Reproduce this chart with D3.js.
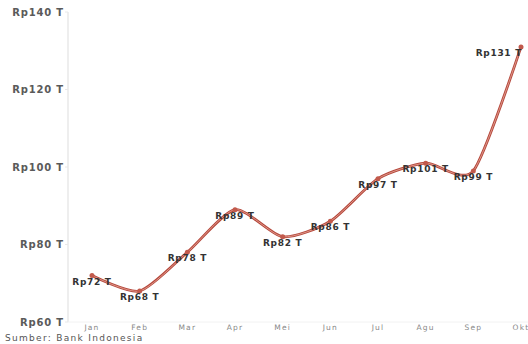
<!DOCTYPE html>
<html>
<head>
<meta charset="utf-8">
<script src="https://cdn.jsdelivr.net/npm/d3@7"></script>
<style>
  body { margin: 0; background: #fff; }
  text { font-family: "DejaVu Sans", sans-serif; }
</style>
</head>
<body>
<div id="chart"></div>
<script>
// nilai per bulan (triliun rupiah)
var months = ["Jan", "Feb", "Mar", "Apr", "Mei", "Jun", "Jul", "Agu", "Sep", "Okt"];
var values = [72, 68, 78, 89, 82, 86, 97, 101, 99, 131];
var yTicks = [60, 80, 100, 120, 140];

var width = 528, height = 344;

var svg = d3.select("#chart")
  .append("svg")
  .attr("width", width)
  .attr("height", height);

var x = d3.scalePoint()
  .domain(months)
  .range([92, 521]);

var y = d3.scaleLinear()
  .domain([60, 140])
  .range([322, 12]);

// sumbu y
svg.append("line")
  .attr("x1", 68).attr("x2", 68)
  .attr("y1", y(140)).attr("y2", y(60))
  .attr("stroke", "#e8e8e8")
  .attr("stroke-width", 1.5);

svg.selectAll(".y-tick")
  .data(yTicks)
  .enter()
  .append("line")
  .attr("class", "y-tick")
  .attr("x1", 65).attr("x2", 68)
  .attr("y1", function(d) { return y(d); })
  .attr("y2", function(d) { return y(d); })
  .attr("stroke", "#e8e8e8");

svg.selectAll(".y-label")
  .data(yTicks)
  .enter()
  .append("text")
  .attr("class", "y-label")
  .attr("x", 64)
  .attr("y", function(d) { return y(d) + 3.5; })
  .attr("text-anchor", "end")
  .attr("font-size", 10)
  .attr("font-weight", 700)
  .attr("letter-spacing", 0.8)
  .attr("fill", "#5a5a5a")
  .text(function(d) { return "Rp" + d + " T"; });

// sumbu x
svg.append("line")
  .attr("x1", 68).attr("x2", width)
  .attr("y1", y(60)).attr("y2", y(60))
  .attr("stroke", "#f2f2f2");

svg.selectAll(".x-label")
  .data(months)
  .enter()
  .append("text")
  .attr("class", "x-label")
  .attr("x", function(d) { return x(d); })
  .attr("y", 330)
  .attr("text-anchor", "middle")
  .attr("font-size", 7.5)
  .attr("letter-spacing", 1.2)
  .attr("fill", "#888")
  .text(function(d) { return d; });

var data = months.map(function(m, i) { return { month: m, value: values[i] }; });

var line = d3.line()
  .x(function(d) { return x(d.month); })
  .y(function(d) { return y(d.value); })
  .curve(d3.curveCardinal.tension(0.3));

svg.append("path")
  .datum(data)
  .attr("d", line)
  .attr("fill", "none")
  .attr("stroke", "#b5483c")
  .attr("stroke-width", 2.8);

svg.append("path")
  .datum(data)
  .attr("d", line)
  .attr("fill", "none")
  .attr("stroke", "#e3a093")
  .attr("stroke-width", 0.9);

svg.selectAll(".dot")
  .data(data)
  .enter()
  .append("circle")
  .attr("class", "dot")
  .attr("cx", function(d) { return x(d.month); })
  .attr("cy", function(d) { return y(d.value); })
  .attr("r", 2.5)
  .attr("fill", "#c25a4c");

svg.selectAll(".value-label")
  .data(data)
  .enter()
  .append("text")
  .attr("class", "value-label")
  .attr("x", function(d) {
    if (d.month === "Okt") { return x(d.month) + 1; }
    return x(d.month);
  })
  .attr("y", function(d) { return y(d.value) + 9; })
  .attr("text-anchor", function(d) { return d.month === "Okt" ? "end" : "middle"; })
  .attr("font-size", 9)
  .attr("font-weight", 700)
  .attr("letter-spacing", 0.7)
  .attr("fill", "#333")
  .text(function(d) { return "Rp" + d.value + " T"; });

svg.append("text")
  .attr("x", 5)
  .attr("y", 341)
  .attr("font-size", 9)
  .attr("letter-spacing", 1.3)
  .attr("fill", "#555")
  .text("Sumber: Bank Indonesia");
</script>
</body>
</html>
